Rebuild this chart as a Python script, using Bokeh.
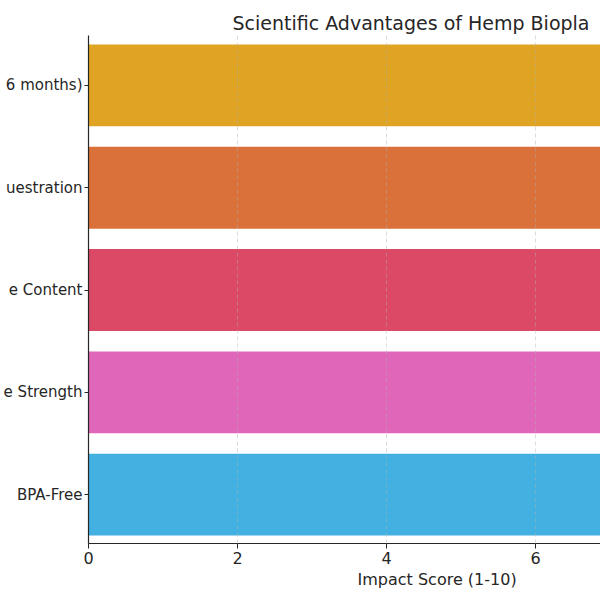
from bokeh.plotting import figure
from bokeh.models import Range1d, FixedTicker, ColumnDataSource, Title
from bokeh.embed import file_html
from bokeh.resources import INLINE

# ---- data (bottom to top); labels are the parts visible in the reference ----
categories = ["BPA-Free", "e Strength", "e Content", "uestration", "6 months)"]
scores = [9, 8, 8, 9, 9]
colors = ["#42B0E0", "#E066B9", "#DB4966", "#DA703A", "#E0A424"]
x_ticks = [0, 2, 4, 6]
title_text = "Scientific Advantages of Hemp Biopla"
x_label = "Impact Score (1-10)"

FONT = "DejaVu Sans"
TXT = "#262626"

pos = list(range(len(categories)))
src = ColumnDataSource(dict(y=pos, right=scores, color=colors))

p = figure(width=600, height=600, output_backend="svg", toolbar_location=None,
           x_range=Range1d(0, 6.872), y_range=Range1d(-0.478, 4.488),
           min_border_left=88, min_border_right=0, min_border_top=35, min_border_bottom=57)
p.outline_line_color = None
p.background_fill_color = "white"

p.hbar(y="y", left=0, right="right", height=0.8, fill_color="color", line_color=None, source=src)

# grid
p.ygrid.visible = False
p.xgrid.ticker = FixedTicker(ticks=x_ticks)
p.xgrid.grid_line_color = "#b0b0b0"
p.xgrid.grid_line_alpha = 0.55
p.xgrid.grid_line_dash = "4 3"
p.xgrid.grid_line_width = 0.8
p.xgrid.level = "annotation"

# x axis
p.xaxis.ticker = FixedTicker(ticks=x_ticks)
p.xaxis.axis_line_color = TXT
p.xaxis.axis_line_width = 1.2
p.xaxis.major_tick_line_color = TXT
p.xaxis.major_tick_out = 5
p.xaxis.major_tick_in = 0
p.xaxis.minor_tick_line_color = None
p.xaxis.major_label_text_font = FONT
p.xaxis.major_label_text_font_size = "16px"
p.xaxis.major_label_text_color = TXT
p.xaxis.major_label_standoff = 3

# y axis with category labels
p.yaxis.ticker = FixedTicker(ticks=pos)
p.yaxis.major_label_overrides = {i: categories[i] for i in pos}
p.yaxis.axis_line_color = TXT
p.yaxis.axis_line_width = 1.2
p.yaxis.major_tick_line_color = TXT
p.yaxis.major_tick_out = 4
p.yaxis.major_tick_in = 0
p.yaxis.minor_tick_line_color = None
p.yaxis.major_label_text_font = FONT
p.yaxis.major_label_text_font_size = "15px"
p.yaxis.major_label_text_color = TXT
p.yaxis.major_label_standoff = 2

# title
p.title.text = title_text
p.title.align = "left"
p.title.vertical_align = "top"
p.title.offset = 144
p.title.text_font = FONT
p.title.text_font_size = "19px"
p.title.text_font_style = "normal"
p.title.text_color = TXT
p.title.standoff = 0

# x axis label as a left-offset title below the axis
p.add_layout(Title(text=x_label, align="left", offset=269, text_font=FONT,
                   text_font_size="16px", text_font_style="normal", text_color=TXT,
                   standoff=2), "below")

open("out.html", "w").write(file_html(p, INLINE))
